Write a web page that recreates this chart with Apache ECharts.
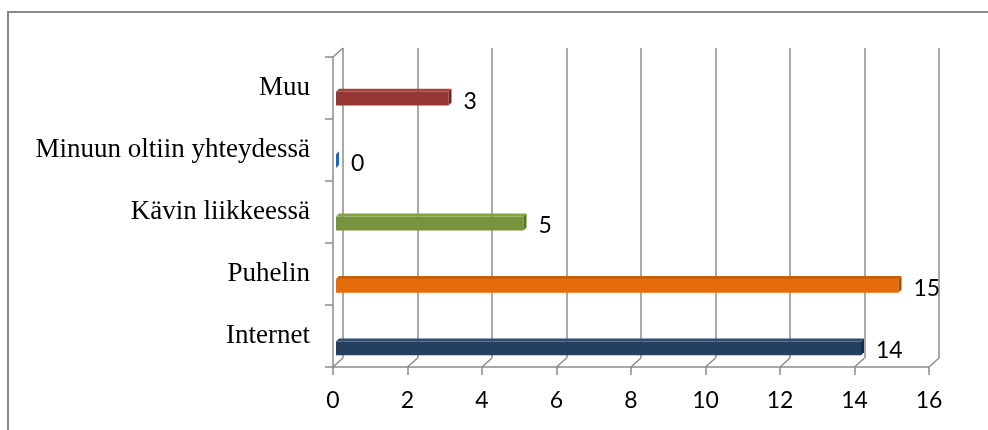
<!DOCTYPE html>
<html>
<head>
<meta charset="utf-8">
<script src="https://cdn.jsdelivr.net/npm/echarts@6/dist/echarts.min.js"></script>
<style>
  html, body { margin: 0; padding: 0; background: #fff; }
  #chart { width: 988px; height: 430px; }
</style>
</head>
<body>
<div id="chart"></div>
<script>
// Categories listed bottom-to-top (ECharts category y axis starts at the bottom)
const categories = ['Internet', 'Puhelin', 'Kävin liikkeessä', 'Minuun oltiin yhteydessä', 'Muu'];
const values = [14, 15, 5, 0, 3];
const valueTicks = [0, 2, 4, 6, 8, 10, 12, 14, 16];

// Front / top / side shades for each bar
const barShades = [
  { front: '#243F60', top: '#2f4c73', side: '#182c45' },
  { front: '#E46C0A', top: '#cc600a', side: '#a94f08' },
  { front: '#77933C', top: '#86a247', side: '#5a702d' },
  { front: '#2166AE', top: '#2a72bd', side: '#1c5a9a' },
  { front: '#953735', top: '#a24341', side: '#6e2826' }
];

const GRID_COLOR = '#8c8c8c';
const DEPTH_X = 10;   // horizontal depth of the back wall
const DEPTH_Y = 9;    // vertical depth of the back wall
const BAR_DEPTH = 3;  // thickness of the bar top / side faces

const numFont = 'Lato, "Open Sans", sans-serif';
const catFont = '"Liberation Serif", "Times New Roman", serif';

const chart = echarts.init(document.getElementById('chart'), null, { renderer: 'canvas' });

function renderBar(params, api) {
  const idx = api.value(1);
  const v = api.value(0);
  const start = api.coord([0, idx]);
  const end = api.coord([v, idx]);
  const band = api.size([0, 1])[1];
  const h = band * 0.27;
  const d = BAR_DEPTH;
  const top = start[1] - h / 2;
  const bottom = start[1] + h / 2;
  const x0 = start[0];
  const x1 = end[0];
  const c = barShades[idx];
  const children = [];
  if (x1 > x0) {
    children.push({
      type: 'rect',
      shape: { x: x0, y: top + d, width: x1 - x0, height: h - d },
      style: { fill: c.front }
    });
    children.push({
      type: 'polygon',
      shape: { points: [[x0, top + d], [x0 + d, top], [x1 + d, top], [x1, top + d]] },
      style: { fill: c.top }
    });
  }
  children.push({
    type: 'polygon',
    shape: { points: [[x1, top + d], [x1 + d, top], [x1 + d, bottom - d], [x1, bottom]] },
    style: { fill: x1 > x0 ? c.side : c.front }
  });
  children.push({
    type: 'text',
    style: {
      x: x1 + d + 12,
      y: start[1] + 4,
      text: String(v),
      fill: '#000',
      font: '23px ' + numFont,
      textAlign: 'left',
      textVerticalAlign: 'middle'
    }
  });
  return { type: 'group', children };
}

function renderFloor(params, api) {
  const v = api.value(0);
  const cs = params.coordSys;
  const x = api.coord([v, 0])[0];
  const yb = cs.y + cs.height;
  const lineStyle = { stroke: GRID_COLOR, lineWidth: 1.5 };
  const children = [{
    type: 'line',
    shape: { x1: x, y1: yb, x2: x + DEPTH_X, y2: yb - DEPTH_Y },
    style: lineStyle
  }];
  if (params.dataIndex === 0) {
    children.push({
      type: 'line',
      shape: { x1: cs.x, y1: cs.y, x2: cs.x + DEPTH_X, y2: cs.y - DEPTH_Y },
      style: lineStyle
    });
  }
  return { type: 'group', children };
}

const option = {
  animation: false,
  backgroundColor: '#fff',
  graphic: [{
    type: 'rect',
    shape: { x: 8, y: 12, width: 1100, height: 600 },
    style: { fill: 'none', stroke: '#8a8a8a', lineWidth: 2 },
    silent: true
  }],
  grid: [
    // back wall
    { left: 343, right: 49, top: 48, bottom: 72 },
    // front axes
    { left: 333, right: 59, top: 57, bottom: 63 },
    // bars
    { left: 336, right: 52, top: 66, bottom: 52 }
  ],
  xAxis: [
    {
      gridIndex: 0, type: 'value', min: 0, max: 16, interval: 2,
      axisLine: { show: false }, axisTick: { show: false }, axisLabel: { show: false },
      splitLine: { show: true, lineStyle: { color: GRID_COLOR, width: 1.5 } }
    },
    {
      gridIndex: 1, type: 'value', min: 0, max: 16, interval: 2,
      axisLine: { show: true, lineStyle: { color: GRID_COLOR, width: 1.5 } },
      axisTick: { show: true, length: 8, lineStyle: { color: GRID_COLOR, width: 1.5 } },
      axisLabel: { show: true, margin: 22, color: '#000', fontSize: 23, fontFamily: numFont },
      splitLine: { show: false }
    },
    {
      gridIndex: 2, type: 'value', min: 0, max: 16, show: false
    }
  ],
  yAxis: [
    { gridIndex: 0, type: 'category', data: categories, show: false },
    {
      gridIndex: 1, type: 'category', data: categories,
      axisLine: { show: true, lineStyle: { color: GRID_COLOR, width: 1.5 } },
      axisTick: { show: true, length: 8, lineStyle: { color: GRID_COLOR, width: 1.5 } },
      axisLabel: { show: true, margin: 23, color: '#000', fontSize: 27, fontFamily: catFont },
      splitLine: { show: false }
    },
    { gridIndex: 2, type: 'category', data: categories, show: false }
  ],
  series: [
    {
      type: 'custom',
      xAxisIndex: 1, yAxisIndex: 1,
      renderItem: renderFloor,
      data: valueTicks.map(t => [t]),
      encode: { x: 0 },
      silent: true,
      z: 1
    },
    {
      type: 'custom',
      xAxisIndex: 2, yAxisIndex: 2,
      renderItem: renderBar,
      data: values.map((v, i) => [v, i]),
      encode: { x: 0, y: 1 },
      z: 5
    }
  ]
};

chart.setOption(option);
</script>
</body>
</html>
